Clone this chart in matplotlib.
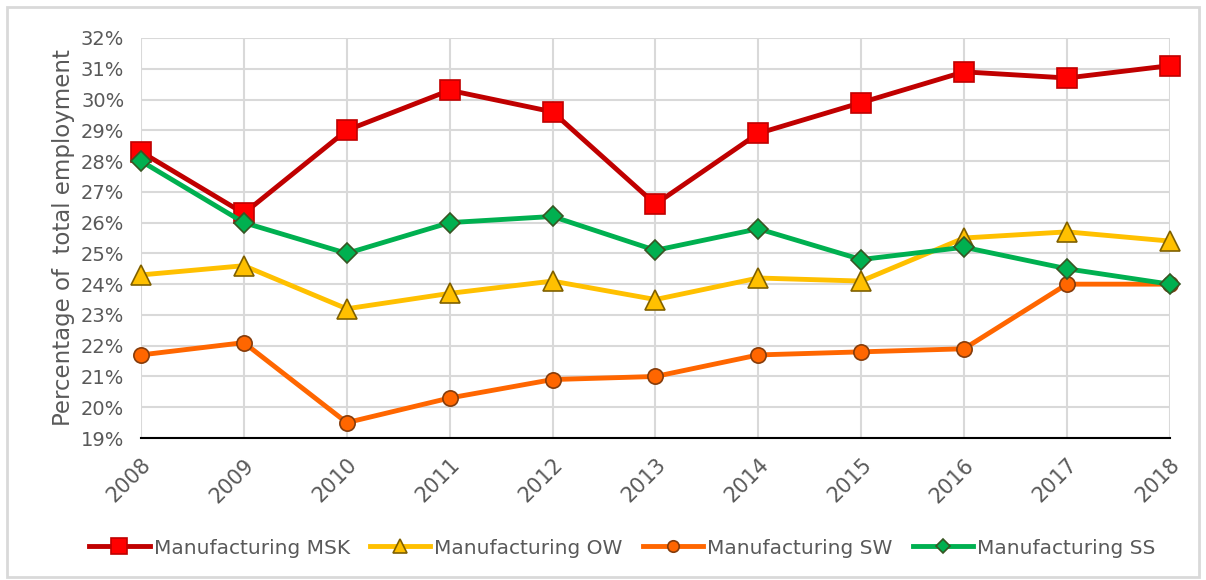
import numpy as np
import matplotlib.pyplot as plt
from matplotlib.patches import Rectangle

# ------------------------------ Data ------------------------------
years = ['2008', '2009', '2010', '2011', '2012', '2013', '2014', '2015', '2016', '2017', '2018']
msk = [28.3, 26.3, 29.0, 30.3, 29.6, 26.6, 28.9, 29.9, 30.9, 30.7, 31.1]
ow = [24.3, 24.6, 23.2, 23.7, 24.1, 23.5, 24.2, 24.1, 25.5, 25.7, 25.4]
sw = [21.7, 22.1, 19.5, 20.3, 20.9, 21.0, 21.7, 21.8, 21.9, 24.0, 24.0]
ss = [28.0, 26.0, 25.0, 26.0, 26.2, 25.1, 25.8, 24.8, 25.2, 24.5, 24.0]
y_ticks = list(range(19, 33))

text_col = '#595959'
plt.rcParams['font.family'] = ['DejaVu Sans']

fig = plt.figure(figsize=(12.06, 5.80), dpi=100)
fig.patches.append(Rectangle((0.006, 0.006), 0.988, 0.982, transform=fig.transFigure,
                             fill=False, edgecolor='#D9D9D9', lw=2))
ax = fig.add_axes([0.1169, 0.2448, 0.8531, 0.6897])

x = np.arange(len(years))
ax.plot(x, msk, color='#C00000', lw=3.5, marker='s', ms=15, mfc='#FF0000', mec='#C00000',
        mew=1.2, label='Manufacturing MSK', clip_on=False, zorder=5)
ax.plot(x, ow, color='#FFC000', lw=3.5, marker='^', ms=14, mfc='#FFC000', mec='#7F6000',
        mew=1.2, label='Manufacturing OW', clip_on=False, zorder=4)
ax.plot(x, sw, color='#FF6600', lw=3.5, marker='o', ms=11, mfc='#FF6600', mec='#843C0C',
        mew=1.2, label='Manufacturing SW', clip_on=False, zorder=4)
ax.plot(x, ss, color='#00B050', lw=3.5, marker='D', ms=10, mfc='#00B050', mec='#375623',
        mew=1.2, label='Manufacturing SS', clip_on=False, zorder=6)

ax.set_xlim(0, len(years) - 1)
ax.set_ylim(19, 32)
ax.set_yticks(y_ticks)
ax.set_yticklabels([f'{v}%' for v in y_ticks])
ax.set_xticks(x)
ax.set_xticklabels(years, rotation=45, ha='right', rotation_mode='anchor')
ax.tick_params(length=0, labelsize=14, colors=text_col, pad=12)
ax.tick_params(axis='x', labelsize=15, pad=12)
ax.grid(True, color='#D9D9D9', lw=1.5)
ax.set_axisbelow(True)
for s in ['top', 'right', 'left']:
    ax.spines[s].set_visible(False)
ax.spines['bottom'].set_color('black')
ax.spines['bottom'].set_linewidth(1.5)
ax.set_ylabel('Percentage of  total employment', fontsize=16.5, color=text_col, labelpad=4)

ax.legend(loc='center', bbox_to_anchor=(0.468, -0.275), ncol=4, frameon=False,
          fontsize=14.5, labelcolor=text_col, handlelength=3, columnspacing=1.0,
          handletextpad=0.2, markerscale=0.75)

fig.savefig('out.png', dpi=100)
